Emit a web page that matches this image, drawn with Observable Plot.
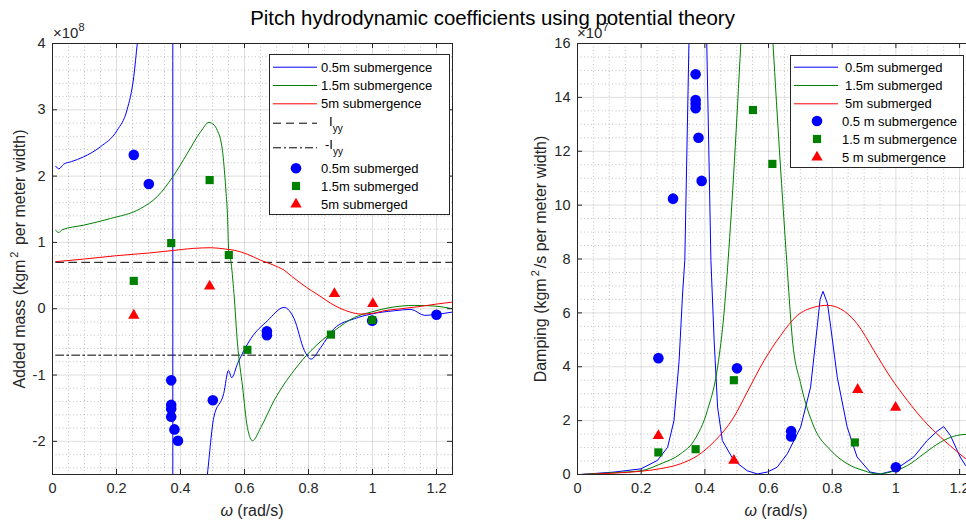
<!DOCTYPE html>
<html>
<head>
<meta charset="utf-8">
<script src="https://cdn.jsdelivr.net/npm/d3@7"></script>
<script src="https://cdn.jsdelivr.net/npm/@observablehq/plot@0.6"></script>
<style>
  html, body { margin: 0; padding: 0; background: #fff; overflow: hidden; }
  #fig { position: relative; width: 966px; height: 522px; overflow: hidden;
         font-family: "Liberation Sans", Arial, Helvetica, sans-serif; color: #262626; background:#fff; }
  #title { position: absolute; left: 0; top: 0; width: 985px; height: 30px; line-height: 36px;
           text-align: center; font-size: 20.4px; color: #000; white-space: nowrap; }
  .panel { position: absolute; top: 30px; }
  .expo { position: absolute; font-size: 15px; white-space: nowrap; line-height: 15px; }
  .expo sup { font-size: 11px; vertical-align: 7px; line-height: 0; }
  .ylab { position: absolute; width: 400px; height: 20px; line-height: 20px; text-align: center;
          font-size: 16px; white-space: nowrap; transform: rotate(-90deg); transform-origin: 50% 50%; }
  .ylab sup { font-size: 11px; vertical-align: 7px; line-height: 0; padding: 0 2px; }
  .xlab { position: absolute; width: 200px; height: 20px; line-height: 20px; text-align: center;
          font-size: 16px; white-space: nowrap; }
  .legend { position: absolute; }
</style>
</head>
<body>
<div id="fig">
  <div id="title">Pitch hydrodynamic coefficients using potential theory</div>
</div>
<script>
// ---------------- DATA ----------------
// Left panel: added mass, in units of 1e8 kg m^2 per meter width
const amOmega05 = [0.01,0.02,0.035,0.06,0.097,0.149,0.202,0.233,0.254,0.265,0.28,0.32,0.36,0.3755,0.3765,0.40,0.45,0.484,0.504,0.535,0.55,0.56,0.578,0.62,0.672,0.724,0.755,0.787,0.808,0.839,0.88,0.944,0.996,1.069,1.12,1.163,1.19,1.25];
const amLine05  = [2.15,2.11,2.18,2.22,2.29,2.44,2.69,3.0,3.5,4.0,4.6,7,14,40,-40,-8,-4,-2.5,-1.64,-1.28,-0.93,-1.04,-0.83,-0.45,-0.18,0.02,-0.15,-0.63,-0.76,-0.58,-0.30,-0.15,-0.08,-0.03,-0.01,-0.10,-0.09,-0.05];

const amOmega15 = [0.01,0.02,0.03,0.097,0.181,0.275,0.327,0.376,0.421,0.463,0.489,0.505,0.515,0.531,0.541,0.547,0.551,0.557,0.567,0.578,0.594,0.609,0.625,0.651,0.693,0.755,0.808,0.881,0.944,0.996,1.058,1.132,1.194,1.25];
const amLine15  = [1.18,1.15,1.19,1.26,1.36,1.51,1.69,1.99,2.34,2.67,2.81,2.77,2.69,2.39,1.84,1.38,0.83,0.73,0.23,-0.52,-1.18,-1.79,-1.99,-1.79,-1.38,-0.93,-0.63,-0.33,-0.13,-0.05,0.02,0.05,0.04,0.0];

const amOmega5 = [0.01,0.1,0.2,0.3,0.38,0.44,0.495,0.54,0.57,0.61,0.651,0.69,0.724,0.75,0.777,0.81,0.839,0.87,0.902,0.93,0.965,1.0,1.037,1.09,1.142,1.2,1.25];
const amLine5  = [0.71,0.75,0.80,0.84,0.88,0.91,0.92,0.90,0.88,0.82,0.73,0.66,0.58,0.48,0.38,0.27,0.18,0.08,0.0,-0.05,-0.08,-0.07,-0.03,0.0,0.03,0.07,0.10];

const iyyOmega = [0.01, 1.25];
const iyyValue = 0.7;   // I_yy, 1e8

const amPtOmega05 = [0.254,0.301,0.371,0.371,0.371,0.371,0.381,0.392,0.501,0.670,0.670,0.999,1.2];
const amPt05      = [2.32,1.88,-1.08,-1.45,-1.51,-1.63,-1.82,-1.99,-1.38,-0.34,-0.40,-0.18,-0.09];
const amPtOmega15 = [0.254,0.371,0.491,0.551,0.609,0.870,0.999];
const amPt15      = [0.42,0.99,1.94,0.81,-0.62,-0.39,-0.17];
const amPtOmega5  = [0.254,0.491,0.881,1.001];
const amPt5       = [-0.10,0.34,0.225,0.074];

// Right panel: damping, in units of 1e7 kg m^2/s per meter width
const dOmega05 = [0.01,0.115,0.199,0.251,0.283,0.303,0.319,0.33,0.337,0.35,0.36,0.378,0.395,0.406,0.419,0.429,0.44,0.455,0.491,0.533,0.565,0.596,0.617,0.627,0.659,0.701,0.732,0.753,0.762,0.771,0.785,0.795,0.816,0.847,0.878,0.919,0.951,0.993,1.056,1.098,1.129,1.15,1.171,1.202,1.219,1.25];
const dLine05  = [0,0.09,0.21,0.52,1.01,2.0,4.2,6.7,7.95,16,22,28,22,16,7.95,5.0,2.5,1.26,0.52,0.14,0.02,0.09,0.21,0.27,0.77,1.76,3.24,5.5,6.5,6.8,6.35,5.5,3.6,1.76,0.65,0.09,0.02,0.14,0.65,1.26,1.6,1.78,1.45,0.65,0.33,0.05];

const dOmega15 = [0.01,0.115,0.199,0.262,0.324,0.366,0.408,0.44,0.46,0.473,0.513,0.53,0.563,0.595,0.614,0.657,0.675,0.701,0.743,0.795,0.847,0.9,0.941,0.983,1.036,1.088,1.14,1.182,1.22,1.25];
const dLine15  = [0,0.07,0.14,0.40,0.77,1.26,2.38,3.99,5.97,7.95,16,20,24,20,16,7.95,5.0,3.37,1.76,0.9,0.40,0.14,0.02,0.09,0.33,0.77,1.2,1.42,1.49,1.5];

const dOmega5 = [0.01,0.115,0.199,0.262,0.324,0.377,0.429,0.491,0.533,0.586,0.638,0.69,0.743,0.785,0.826,0.878,0.931,0.983,1.036,1.088,1.14,1.182,1.22,1.25];
const dLine5  = [0,0.05,0.12,0.22,0.40,0.70,1.22,2.13,3.06,4.23,5.16,5.9,6.21,6.28,6.15,5.6,4.6,3.61,2.75,2.0,1.39,0.95,0.58,0.35];

const dPtOmega05 = [0.254,0.300,0.371,0.371,0.371,0.371,0.380,0.390,0.501,0.671,0.671,1.0];
const dPt05      = [4.32,10.24,14.86,13.9,13.75,13.6,12.5,10.9,3.94,1.61,1.41,0.27];
const dPtOmega15 = [0.254,0.371,0.491,0.551,0.612,0.871];
const dPt15      = [0.82,0.94,3.5,13.53,11.53,1.19];
const dPtOmega5  = [0.254,0.491,0.88,0.999];
const dPt5       = [1.44,0.52,3.15,2.49];

// ticks
const xMajor = [0,0.2,0.4,0.6,0.8,1,1.2];
const xMinor = d3.range(0,26).map(i => +(i*0.05).toFixed(2)).filter(v => !xMajor.includes(v));
const yMajorA = [-2,-1,0,1,2,3,4];
const yMinorA = d3.range(-12,21).map(i => +(i*0.2).toFixed(1)).filter(v => !yMajorA.includes(v));
const yMajorB = [0,2,4,6,8,10,12,14,16];
const yMinorB = d3.range(0,33).map(i => i*0.5).filter(v => !yMajorB.includes(v));

// legend texts
const legendLeft = ["0.5m submergence","1.5m submergence","5m submergence","I|yy","-I|yy","0.5m submerged","1.5m submerged","5m submerged"];
const legendRight = ["0.5m submerged","1.5m submerged","5m submerged","0.5 m submergence","1.5 m submergence","5 m submergence"];

// colours
const BLUE = "#0000ff", GREEN = "#008000", RED = "#ff0000", AX = "#262626";

// ---------------- BUILD ----------------
const zip = (xs, ys) => xs.map((x, i) => ({x, y: ys[i]}));
const fmt = d => String(+d.toFixed(1));

function panel({width, marginLeft, marginRight, yDomain, yMajor, yMinor, lines, refs, pts}) {
  const H = 431, innerW = width - marginLeft - marginRight;
  const marks = [
    Plot.gridX(xMinor, {stroke: AX, strokeOpacity: 0.35, strokeDasharray: "1,2.5", strokeWidth: 0.8}),
    Plot.gridY(yMinor, {stroke: AX, strokeOpacity: 0.35, strokeDasharray: "1,2.5", strokeWidth: 0.8}),
    Plot.gridX(xMajor, {stroke: AX, strokeOpacity: 0.15, strokeWidth: 1}),
    Plot.gridY(yMajor, {stroke: AX, strokeOpacity: 0.15, strokeWidth: 1}),
  ];
  for (const r of refs) marks.push(Plot.line(r.data, {x: "x", y: "y", stroke: "#000", strokeWidth: 1, strokeDasharray: r.dash, clip: true}));
  for (const l of lines) marks.push(Plot.line(l.data, {x: "x", y: "y", stroke: l.color, strokeWidth: 1, curve: l.curve, clip: true}));
  for (const p of pts) marks.push(Plot.dot(p.data, {x: "x", y: "y", fill: p.color, stroke: "none", symbol: p.symbol, r: p.r, clip: true}));
  marks.push(
    Plot.tickX(xMajor, {stroke: AX, insetTop: H - 5}),
    Plot.tickX(xMajor, {stroke: AX, insetBottom: H - 5}),
    Plot.tickY(yMajor, {stroke: AX, insetRight: innerW - 5}),
    Plot.tickY(yMajor, {stroke: AX, insetLeft: innerW - 5}),
    Plot.frame({stroke: AX, strokeWidth: 1}),
    Plot.axisX(xMajor, {tickSize: 0, tickPadding: 8, tickFormat: fmt, fill: AX}),
    Plot.axisY(yMajor, {tickSize: 0, tickPadding: 7, tickFormat: d => String(d), fill: AX})
  );
  return Plot.plot({
    width, height: 492, marginTop: 13, marginBottom: 48, marginLeft, marginRight,
    style: {fontFamily: '"Liberation Sans", Arial, sans-serif', fontSize: "14.5px", color: AX, background: "transparent", overflow: "visible"},
    x: {domain: [0, 1.25], label: null, axis: null},
    y: {domain: yDomain, label: null, axis: null},
    marks
  });
}

const fig = document.getElementById("fig");

const left = panel({
  width: 483, marginLeft: 52, marginRight: 31, yDomain: [-2.5, 4], yMajor: yMajorA, yMinor: yMinorA,
  refs: [
    {data: zip(iyyOmega, iyyOmega.map(() => iyyValue)), dash: "8,5"},
    {data: zip(iyyOmega, iyyOmega.map(() => -iyyValue)), dash: "8,3,2,3"}
  ],
  lines: [
    {data: zip(amOmega05, amLine05), color: BLUE, curve: "monotone-x"},
    {data: zip(amOmega15, amLine15), color: GREEN, curve: "monotone-x"},
    {data: zip(amOmega5, amLine5), color: RED, curve: "monotone-x"}
  ],
  pts: [
    {data: zip(amPtOmega05, amPt05), color: BLUE, symbol: "circle", r: 5.3},
    {data: zip(amPtOmega15, amPt15), color: GREEN, symbol: "square", r: 4.6},
    {data: zip(amPtOmega5, amPt5), color: RED, symbol: "triangle", r: 4.2}
  ]
});
left.classList.add("panel"); left.style.left = "0px"; left.style.maxWidth = "none";
fig.appendChild(left);

const right = panel({
  width: 502, marginLeft: 94, marginRight: 10, yDomain: [0, 16], yMajor: yMajorB, yMinor: yMinorB,
  refs: [],
  lines: [
    {data: zip(dOmega05, dLine05), color: BLUE, curve: "linear"},
    {data: zip(dOmega15, dLine15), color: GREEN, curve: "monotone-x"},
    {data: zip(dOmega5, dLine5), color: RED, curve: "monotone-x"}
  ],
  pts: [
    {data: zip(dPtOmega05, dPt05), color: BLUE, symbol: "circle", r: 5.3},
    {data: zip(dPtOmega15, dPt15), color: GREEN, symbol: "square", r: 4.6},
    {data: zip(dPtOmega5, dPt5), color: RED, symbol: "triangle", r: 4.2}
  ]
});
right.classList.add("panel"); right.style.left = "483px"; right.style.maxWidth = "none";
fig.appendChild(right);

// ---------- HTML text: exponents, axis labels ----------
function addHTML(cls, html, style) {
  const d = document.createElement("div");
  d.className = cls; d.innerHTML = html;
  Object.assign(d.style, style);
  fig.appendChild(d);
}
addHTML("expo", "×10<sup>8</sup>", {left: "53px", top: "25px"});
addHTML("expo", "×10<sup>7</sup>", {left: "577px", top: "25px"});
addHTML("ylab", "Added mass (kgm<sup>2</sup> per meter width)", {left: (20 - 200) + "px", top: (258.5 - 10) + "px"});
addHTML("ylab", "Damping (kgm<sup>2</sup>/s per meter width)", {left: (541 - 200) + "px", top: (258.5 - 10) + "px"});
addHTML("xlab", "<i>ω</i> (rad/s)", {left: (252 - 100) + "px", top: (511 - 10) + "px"});
addHTML("xlab", "<i>ω</i> (rad/s)", {left: (776 - 100) + "px", top: (511 - 10) + "px"});

// ---------- legends ----------
const NS = "http://www.w3.org/2000/svg";
function el(name, attrs, parent) {
  const e = document.createElementNS(NS, name);
  for (const k in attrs) if (attrs[k] != null) e.setAttribute(k, attrs[k]);
  parent.appendChild(e); return e;
}
function symbolPath(sym, r) {
  const t = {circle: d3.symbolCircle, square: d3.symbolSquare, triangle: d3.symbolTriangle}[sym];
  return d3.symbol(t, Math.PI * r * r)();
}
function legend(x, y, w, h, items) {
  const svg = document.createElementNS(NS, "svg");
  svg.setAttribute("width", w + 1); svg.setAttribute("height", h + 1);
  svg.setAttribute("class", "legend");
  svg.style.left = x + "px"; svg.style.top = y + "px";
  el("rect", {x: 0.5, y: 0.5, width: w, height: h, fill: "#fff", stroke: AX, "stroke-width": 1}, svg);
  for (const it of items) {
    if (it.kind === "line") {
      el("line", {x1: 4, x2: 48, y1: it.y + 0.5, y2: it.y + 0.5, stroke: it.color, "stroke-width": 1, "stroke-dasharray": it.dash}, svg);
    } else {
      el("path", {d: symbolPath(it.symbol, it.r), fill: it.color, transform: `translate(${it.mx},${it.y})`}, svg);
    }
    const t = el("text", {x: it.tx, y: it.ty ?? it.y, "dominant-baseline": "central", "font-size": 13, fill: "#000",
      "font-family": '"Liberation Sans", Arial, sans-serif'}, svg);
    const [main, sub] = it.label.split("|");
    el("tspan", {}, t).textContent = main;
    if (sub) { const s = el("tspan", {dy: 7, "font-size": 10}, t); s.textContent = sub; }
  }
  fig.appendChild(svg);
}

legend(269, 54, 180, 160, [
  {kind: "line", y: 12.7, color: BLUE, label: legendLeft[0], tx: 52},
  {kind: "line", y: 31, color: GREEN, label: legendLeft[1], tx: 52},
  {kind: "line", y: 49.3, color: RED, label: legendLeft[2], tx: 52},
  {kind: "line", y: 68.7, color: "#000", dash: "8,5", label: legendLeft[3], tx: 60, ty: 66.5},
  {kind: "line", y: 93.3, color: "#000", dash: "8,3,2,3", label: legendLeft[4], tx: 56, ty: 90},
  {kind: "dot", y: 114.3, mx: 27, symbol: "circle", r: 5.3, color: BLUE, label: legendLeft[5], tx: 52},
  {kind: "dot", y: 132, mx: 27, symbol: "square", r: 4.6, color: GREEN, label: legendLeft[6], tx: 52},
  {kind: "dot", y: 150.3, mx: 27, symbol: "triangle", r: 4.2, color: RED, label: legendLeft[7], tx: 52}
]);
legend(790, 55, 173, 112, [
  {kind: "line", y: 11.7, color: BLUE, label: legendRight[0], tx: 55},
  {kind: "line", y: 30, color: GREEN, label: legendRight[1], tx: 55},
  {kind: "line", y: 48.3, color: RED, label: legendRight[2], tx: 55},
  {kind: "dot", y: 66, mx: 27, symbol: "circle", r: 5.3, color: BLUE, label: legendRight[3], tx: 52},
  {kind: "dot", y: 84, mx: 27, symbol: "square", r: 4.6, color: GREEN, label: legendRight[4], tx: 52},
  {kind: "dot", y: 102.3, mx: 27, symbol: "triangle", r: 4.2, color: RED, label: legendRight[5], tx: 52}
]);
</script>
</body>
</html>
